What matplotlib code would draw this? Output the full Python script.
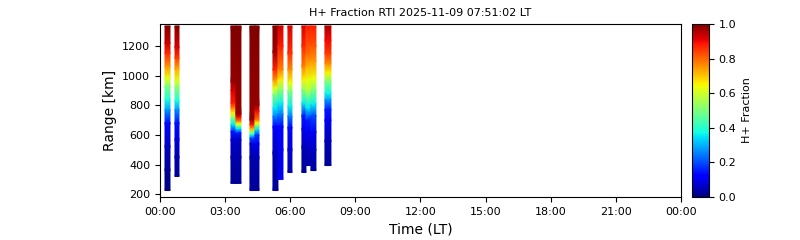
import datetime as dt
import numpy as np
import matplotlib
matplotlib.use("Agg")
import matplotlib.pyplot as plt
import matplotlib.dates as mdates

DAY = dt.datetime(2025, 11, 9)

# start / end of each profile (hours LT)
t_start = [0.23, 0.69, 3.27, 3.50, 4.145, 4.376, 5.205, 5.435, 5.896, 6.54, 6.725, 6.955, 7.60]
t_end = [0.46, 0.875, 3.50, 3.73, 4.376, 4.56, 5.435, 5.666, 6.08, 6.725, 6.955, 7.186, 7.877]

# range nodes [km] (top -> bottom) and H+ fraction read at those ranges
prof_range = [
    [1337, 1220, 1153, 1062, 984, 927, 837, 770, 680, 522, 364, 224],
    [1337, 1190, 1120, 1040, 970, 920, 830, 770, 680, 570, 450, 319],
    [1337, 960, 900, 815, 780, 747, 713, 668, 623, 567, 450, 272],
    [1337, 740, 720, 691, 673, 657, 639, 612, 567, 450, 272],
    [1337, 700, 668, 640, 620, 600, 578, 540, 450, 224],
    [1337, 800, 760, 700, 680, 660, 630, 600, 540, 450, 224],
    [1337, 1160, 1040, 970, 916, 870, 780, 725, 657, 480, 224],
    [1337, 1200, 1040, 972, 905, 815, 740, 657, 500, 299],
    [1337, 1150, 1040, 950, 893, 792, 725, 650, 500, 346],
    [1337, 1200, 1060, 972, 905, 815, 730, 640, 520, 346],
    [1337, 1150, 1060, 970, 900, 860, 781, 700, 620, 520, 393],
    [1337, 1200, 1100, 980, 900, 810, 730, 620, 500, 359],
    [1337, 1240, 1150, 1080, 1017, 961, 880, 837, 770, 700, 560, 393],
]
prof_frac = [
    [1.0, 0.93, 0.87, 0.75, 0.63, 0.5, 0.38, 0.28, 0.13, 0.06, 0.02, 0.0],
    [1.0, 0.92, 0.85, 0.72, 0.62, 0.52, 0.38, 0.27, 0.14, 0.08, 0.04, 0.02],
    [1.0, 0.98, 0.92, 0.88, 0.77, 0.65, 0.5, 0.35, 0.15, 0.07, 0.04, 0.02],
    [1.0, 0.98, 0.9, 0.77, 0.63, 0.48, 0.35, 0.15, 0.06, 0.04, 0.02],
    [1.0, 0.98, 0.88, 0.72, 0.55, 0.38, 0.2, 0.08, 0.04, 0.02],
    [1.0, 0.98, 0.9, 0.78, 0.65, 0.5, 0.33, 0.18, 0.1, 0.05, 0.02],
    [1.0, 0.97, 0.87, 0.75, 0.63, 0.5, 0.35, 0.25, 0.12, 0.05, 0.02],
    [0.93, 0.88, 0.77, 0.66, 0.52, 0.36, 0.25, 0.13, 0.1, 0.1],
    [0.92, 0.86, 0.76, 0.64, 0.5, 0.36, 0.25, 0.13, 0.08, 0.04],
    [0.92, 0.87, 0.77, 0.65, 0.52, 0.36, 0.15, 0.1, 0.05, 0.02],
    [0.88, 0.8, 0.72, 0.63, 0.57, 0.48, 0.35, 0.15, 0.1, 0.06, 0.03],
    [0.88, 0.82, 0.75, 0.64, 0.5, 0.36, 0.2, 0.1, 0.06, 0.03],
    [0.96, 0.9, 0.85, 0.76, 0.65, 0.5, 0.37, 0.28, 0.15, 0.1, 0.05, 0.02],
]


def to_num(h):
    return mdates.date2num(DAY + dt.timedelta(hours=h))


fig = plt.figure(figsize=(8, 2.4), dpi=100)
ax = fig.add_axes([0.2, 0.179, 0.651, 0.721])

mesh = None
for t0, t1, rng, frac in zip(t_start, t_end, prof_range, prof_frac):
    r = np.array(rng, dtype=float)
    f = np.array(frac, dtype=float)
    X = np.column_stack([np.full(len(r), to_num(t0)), np.full(len(r), to_num(t1))])
    Y = np.column_stack([r, r])
    C = np.column_stack([f, f])
    mesh = ax.pcolormesh(X, Y, C, cmap="jet", vmin=0, vmax=1, shading="gouraud")

ax.set_xlim(to_num(0), to_num(24))
ax.set_ylim(180, 1350)
ax.xaxis.set_major_locator(mdates.HourLocator(byhour=range(0, 24, 3)))
ax.xaxis.set_major_formatter(mdates.DateFormatter("%H:%M"))
ax.tick_params(labelsize=8)
ax.set_xlabel("Time (LT)", fontsize=10)
ax.set_ylabel("Range [km]", fontsize=10)
ax.set_title("H+ Fraction RTI 2025-11-09 07:51:02 LT", fontsize=8)

cax = fig.add_axes([0.865, 0.179, 0.021, 0.721])
cb = fig.colorbar(mesh, cax=cax)
cb.set_ticks([0, 0.2, 0.4, 0.6, 0.8, 1.0])
cb.ax.tick_params(labelsize=8)
cb.set_label("H+ Fraction", fontsize=8)

fig.savefig("out.png", dpi=100)
